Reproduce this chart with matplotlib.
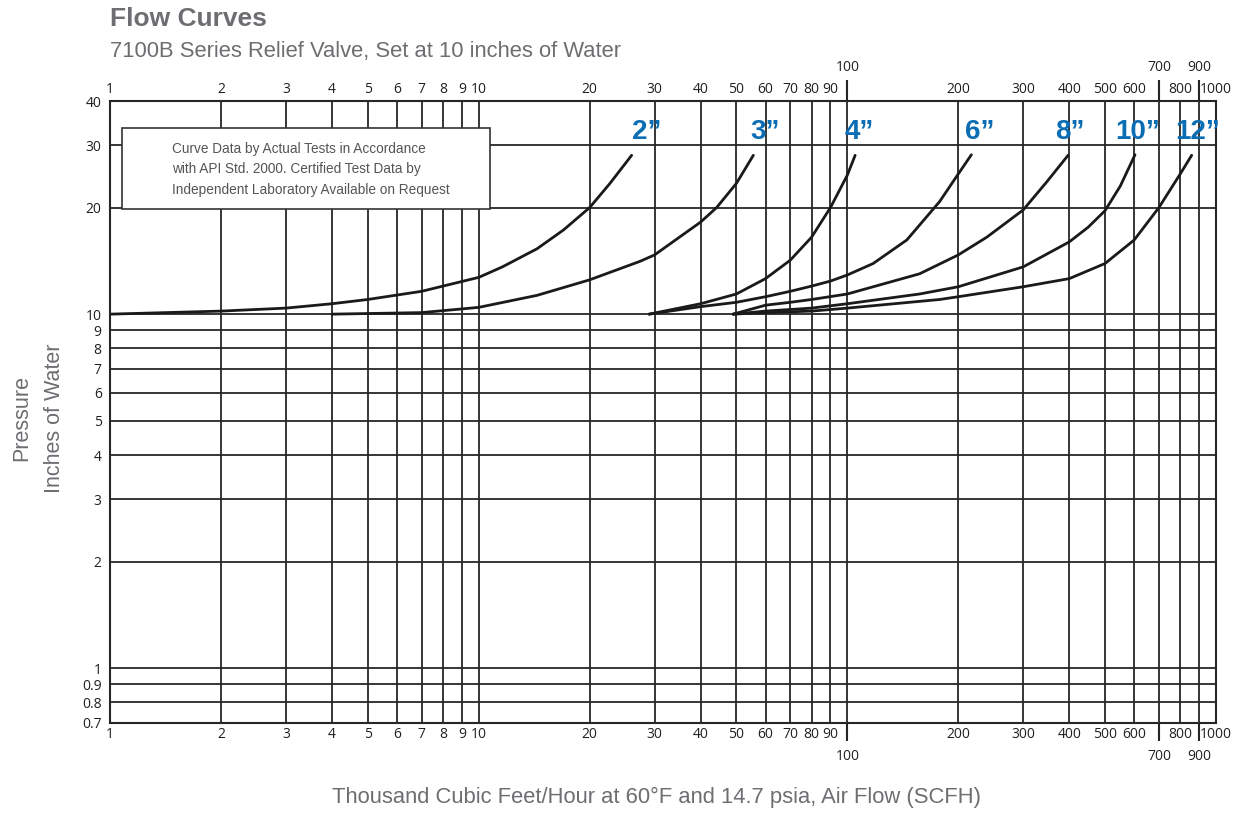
import matplotlib
matplotlib.use("Agg")
import matplotlib.pyplot as plt
from matplotlib.patches import Rectangle
from matplotlib.ticker import NullLocator

# ---- data ----
x_ticks = [1, 2, 3, 4, 5, 6, 7, 8, 9, 10, 20, 30, 40, 50, 60, 70, 80, 90, 100,
           200, 300, 400, 500, 600, 700, 800, 900, 1000]
x_labels = [str(v) for v in x_ticks]
x_special = [100, 700, 900]
y_ticks = [0.7, 0.8, 0.9, 1, 2, 3, 4, 5, 6, 7, 8, 9, 10, 20, 30, 40]
y_labels = ["0.7", "0.8", "0.9", "1", "2", "3", "4", "5", "6", "7", "8", "9",
            "10", "20", "30", "40"]

sizes = ["2\u201d", "3\u201d", "4\u201d", "6\u201d", "8\u201d", "10\u201d", "12\u201d"]
label_x = [28.6, 59.8, 108, 229, 402, 614, 893]
label_y = [32.7, 32.7, 32.7, 32.7, 32.7, 32.7, 32.7]

flow_2in = [1, 2, 3, 4, 5, 7, 10, 11.6, 14.4, 17, 20, 22.7, 26]
pres_2in = [10, 10.2, 10.4, 10.7, 11.0, 11.6, 12.7, 13.6, 15.3, 17.3, 20, 23.4, 28.1]
flow_3in = [4, 7, 10, 14.4, 20, 27.4, 30, 40, 44.2, 50, 55.6]
pres_3in = [10, 10.1, 10.45, 11.3, 12.5, 14.1, 14.7, 18.2, 20, 23.4, 28.1]
flow_4in = [29, 40, 50, 60, 70, 80, 90, 100, 105]
pres_4in = [10, 10.7, 11.4, 12.6, 14.2, 16.5, 20, 24.7, 28.1]
flow_6in = [29, 40, 50, 60, 70, 80, 90, 100, 117.5, 145, 178, 200, 217]
pres_6in = [10, 10.5, 10.8, 11.2, 11.6, 12.0, 12.4, 12.9, 13.9, 16.2, 20.8, 24.9, 28.2]
flow_8in = [49, 60, 70, 80, 100, 157, 200, 239, 300, 347, 397]
pres_8in = [10, 10.6, 10.8, 11.0, 11.4, 13.0, 14.7, 16.5, 19.7, 23.6, 28.1]
flow_10in = [49, 60, 80, 100, 157, 200, 300, 400, 450, 500, 550, 603]
pres_10in = [10, 10.2, 10.4, 10.7, 11.4, 11.95, 13.6, 16.0, 17.6, 19.6, 23.0, 28.2]
flow_12in = [49, 60, 80, 100, 178, 200, 300, 400, 500, 600, 700, 800, 859]
pres_12in = [10, 10.1, 10.2, 10.4, 11.0, 11.2, 11.95, 12.6, 13.9, 16.2, 20, 24.9, 28.1]

note_lines = ["Curve Data by Actual Tests in Accordance",
              "with API Std. 2000. Certified Test Data by",
              "Independent Laboratory Available on Request"]

# ---- figure ----
W, H = 1244, 815
fig = plt.figure(figsize=(W / 100, H / 100), dpi=100)
ax = fig.add_axes([110 / W, 1 - 723 / H, 1106 / W, 622 / H])
ax.set_xscale("log")
ax.set_yscale("log")
ax.set_xlim(1, 1000)
ax.set_ylim(0.7, 40)

grid_c = "#262626"
ax.set_axisbelow(True)
ax.grid(True, which="major", color=grid_c, lw=1.3)
for s in ax.spines.values():
    s.set_color(grid_c)
    s.set_linewidth(1.5)

sans = ["Liberation Sans", "DejaVu Sans"]
tickfont = ["Open Sans", "DejaVu Sans"]

ax.xaxis.set_minor_locator(NullLocator())
ax.yaxis.set_minor_locator(NullLocator())
ax.set_xticks(x_ticks, labels=x_labels)
ax.set_yticks(y_ticks, labels=y_labels)
ax.tick_params(axis="x", which="major", top=True, bottom=True, labeltop=True,
               labelbottom=True, length=0, pad=3, width=1.5, color=grid_c,
               labelsize=10, labelcolor="#231f20")
ax.tick_params(axis="y", which="major", length=0, pad=6, labelsize=10,
               labelcolor="#231f20")
for lab in ax.get_yticklabels():
    lab.set_family(tickfont)
for t in ax.xaxis.get_major_ticks():
    t.label2.set_family(tickfont)
    t.label1.set_family(tickfont)
for t, v in zip(ax.xaxis.get_major_ticks(), x_ticks):
    if v in x_special:
        t.set_pad(19)
        t.tick1line.set_markersize(13)
        t.tick2line.set_markersize(15)

# curves
curves = [(flow_2in, pres_2in), (flow_3in, pres_3in), (flow_4in, pres_4in),
          (flow_6in, pres_6in), (flow_8in, pres_8in), (flow_10in, pres_10in),
          (flow_12in, pres_12in)]
for fx, py in curves:
    ax.plot(fx, py, color="#1a1a1a", lw=2.0, zorder=2, solid_capstyle="round",
            solid_joinstyle="round")

for name, lx, ly in zip(sizes, label_x, label_y):
    ax.text(lx, ly, name, ha="center", va="center", color="#0b6db3",
            fontsize=20, fontweight="bold", family=sans, zorder=4)

# note box
ax.add_patch(Rectangle((0.0109, 0.826), 0.3327, 0.1306, transform=ax.transAxes,
                       facecolor="white", edgecolor="#333333", lw=1.2, zorder=3))
ax.text(172 / W, 1 - 142 / H, "\n".join(note_lines), transform=fig.transFigure,
        ha="left", va="top", fontsize=9.8, family=sans, color="#555555",
        linespacing=1.57, zorder=5)

# titles
fig.text(110 / W, 1 - 19 / H, "Flow Curves", fontsize=19, fontweight="bold",
         color="#6d6e71", va="center", ha="left", family=sans)
fig.text(110 / W, 1 - 51 / H, "7100B Series Relief Valve, Set at 10 inches of Water",
         fontsize=15.8, color="#6d6e71", va="center", ha="left", family=sans)
fig.text(22 / W, 1 - 418 / H, "Pressure", rotation=90, fontsize=15.5,
         color="#6d6e71", va="center", ha="center", family=sans)
fig.text(55 / W, 1 - 418 / H, "Inches of Water", rotation=90, fontsize=15.5,
         color="#6d6e71", va="center", ha="center", family=sans)
fig.text(657 / W, 1 - 797 / H,
         "Thousand Cubic Feet/Hour at 60\u00b0F and 14.7 psia, Air Flow (SCFH)",
         fontsize=15.8, color="#6d6e71", va="center", ha="center", family=sans)

fig.savefig("out.png", dpi=100, facecolor="white")
